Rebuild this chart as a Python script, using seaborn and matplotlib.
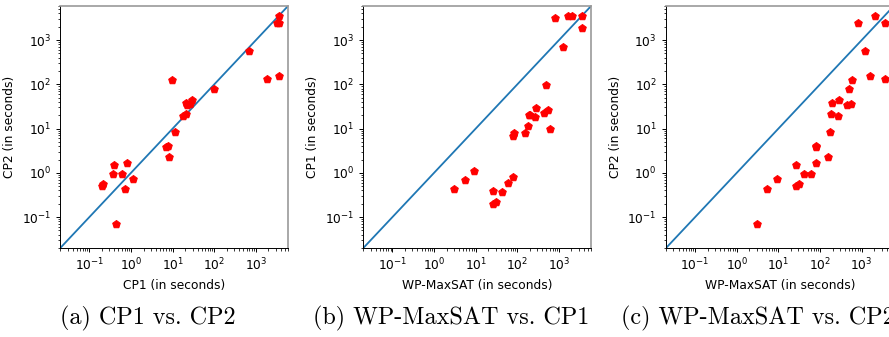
import matplotlib
matplotlib.use("Agg")
import matplotlib.pyplot as plt
import seaborn as sns

# solve times per instance (seconds)
wp = [3.05, 5.4, 9.1, 26.5, 26.5, 31, 42, 60, 80, 80, 82, 156, 178, 186,
      197, 270, 284, 445, 490, 555, 595, 1230, 810, 1620, 2070, 3600, 3600]
cp1 = [0.43, 0.70, 1.10, 0.38, 0.20, 0.215, 0.363, 0.60, 0.82, 6.85, 7.8,
       8.15, 11.4, 20.5, 20.5, 18, 29, 22, 96, 26.5, 9.7, 690, 3200, 3600,
       3600, 3600, 1850]
cp2 = [0.07, 0.43, 0.74, 1.48, 0.51, 0.56, 0.96, 0.94, 1.71, 3.9, 4.1,
       2.26, 8.45, 21, 38, 19.6, 44, 34, 77, 36, 124, 580, 2450, 155,
       3600, 2450, 132]

panels = [
    (cp1, cp2, "CP1 (in seconds)", "CP2 (in seconds)", "(a) CP1 vs. CP2"),
    (wp, cp1, "WP-MaxSAT (in seconds)", "CP1 (in seconds)", "(b) WP-MaxSAT vs. CP1"),
    (wp, cp2, "WP-MaxSAT (in seconds)", "CP2 (in seconds)", "(c) WP-MaxSAT vs. CP2"),
]
lims = (0.02, 6000)

plt.rcParams.update({
    "font.size": 8.8,
    "axes.linewidth": 0.7,
    "xtick.major.size": 3.1, "ytick.major.size": 3.1,
    "xtick.minor.size": 1.8, "ytick.minor.size": 1.8,
    "xtick.major.width": 0.7, "ytick.major.width": 0.7,
    "xtick.minor.width": 0.55, "ytick.minor.width": 0.55,
})

fig = plt.figure(figsize=(8.89, 3.37), dpi=100)
lefts = [0.0678, 0.4087, 0.7492]
caption_x = [0.0675, 0.352, 0.698]

for (xs, ys, xl, yl, cap), left, cx in zip(panels, lefts, caption_x):
    ax = fig.add_axes([left, 0.2641, 0.2565, 0.719])
    ax.set_xscale("log")
    ax.set_yscale("log")
    ax.axline((1, 1), (10, 10), color="#1f77b4", lw=1.3)
    sns.scatterplot(x=xs, y=ys, ax=ax, marker="p", color="red",
                    edgecolor="red", linewidth=0.8, s=32, zorder=3)
    ax.set_xlim(*lims)
    ax.set_ylim(*lims)
    ax.set_xlabel(xl)
    ax.set_ylabel(yl)
    for side in ("top", "right"):
        ax.spines[side].set_color("#999999")
        ax.spines[side].set_linewidth(1.2)
    fig.text(cx, 0.055, cap, family="cmr10", fontsize=17.4, ha="left", va="center")

fig.savefig("out.png", dpi=100)
